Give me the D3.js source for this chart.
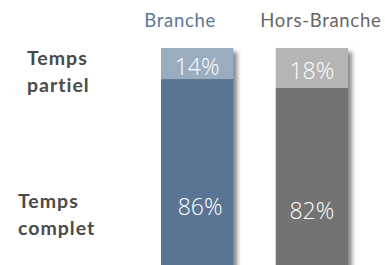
<!DOCTYPE html>
<html>
<head>
<meta charset="utf-8">
<script src="https://cdn.jsdelivr.net/npm/d3@7"></script>
<style>
  body { margin: 0; background: #fff; }
  svg { display: block; }
</style>
</head>
<body>
<svg width="385" height="265"></svg>
<script>
/*global d3 */
var categories = ["Branche", "Hors-Branche"];
var partiel = [14, 18];
var complet = [86, 82];
var rowLabels = [["Temps", "partiel"], ["Temps", "complet"]];

var colPartiel = ["#9aacbf", "#b5b5b5"];
var colComplet = ["#5a7593", "#737373"];
var colTitle = ["#5b7896", "#666666"];

var svg = d3.select("svg");

var x = d3.scaleBand().domain(categories).range([161, 348]).paddingInner(0.37).paddingOuter(0);
var y = d3.scaleLinear().domain([0, 100]).range([270, 48]);

var defs = svg.append("defs");
defs.append("filter").attr("id", "blur")
    .attr("x", "-50%").attr("y", "-10%").attr("width", "200%").attr("height", "120%")
    .append("feGaussianBlur").attr("stdDeviation", 2);

// shadows
svg.selectAll("rect.shadow").data(categories).enter().append("rect")
    .attr("class", "shadow")
    .attr("x", function (d) { return x(d) + 4; })
    .attr("y", y(100) + 4)
    .attr("width", x.bandwidth())
    .attr("height", y(0) - y(100))
    .attr("fill", "#8a8a8a")
    .attr("filter", "url(#blur)");

// complet segments
svg.selectAll("rect.complet").data(complet).enter().append("rect")
    .attr("class", "complet")
    .attr("x", function (d, i) { return x(categories[i]); })
    .attr("y", function (d) { return y(d); })
    .attr("width", x.bandwidth())
    .attr("height", function (d) { return y(0) - y(d); })
    .attr("fill", function (d, i) { return colComplet[i]; });

// partiel segments
svg.selectAll("rect.partiel").data(partiel).enter().append("rect")
    .attr("class", "partiel")
    .attr("x", function (d, i) { return x(categories[i]); })
    .attr("y", function (d, i) { return y(complet[i] + d); })
    .attr("width", x.bandwidth())
    .attr("height", function (d, i) { return y(complet[i]) - y(complet[i] + d); })
    .attr("fill", function (d, i) { return colPartiel[i]; });

// value labels
var valFont = "'Open Sans', 'Segoe UI', sans-serif";
svg.selectAll("text.vp").data(partiel).enter().append("text")
    .attr("class", "vp")
    .attr("x", function (d, i) { return x(categories[i]) + x.bandwidth() / 2; })
    .attr("y", function (d, i) { return (y(complet[i] + d) + y(complet[i])) / 2 + 11; })
    .attr("text-anchor", "middle")
    .attr("fill", "#fff")
    .style("font-family", valFont)
    .style("font-weight", 300)
    .style("font-size", "23px")
    .text(function (d) { return d + "%"; });

svg.selectAll("text.vc").data(complet).enter().append("text")
    .attr("class", "vc")
    .attr("x", function (d, i) { return x(categories[i]) + x.bandwidth() / 2 + (i === 0 ? 3 : 0); })
    .attr("y", function (d) { return (y(d) + 335) / 2 + 8; })
    .attr("text-anchor", "middle")
    .attr("fill", "#fff")
    .style("font-family", valFont)
    .style("font-weight", 300)
    .style("font-size", "23px")
    .text(function (d) { return d + "%"; });

// column titles
svg.selectAll("text.title").data(categories).enter().append("text")
    .attr("class", "title")
    .attr("x", function (d, i) { return x(d) + x.bandwidth() / 2 + (i === 0 ? -17 : 9); })
    .attr("y", 27)
    .attr("text-anchor", "middle")
    .attr("fill", function (d, i) { return colTitle[i]; })
    .style("font-family", "Lato, sans-serif")
    .style("font-size", "18.5px")
    .style("letter-spacing", "0.7px")
    .text(function (d) { return d; });

// row labels
var rowPos = [[27, 65], [18, 208]];
rowLabels.forEach(function (lines, r) {
    var t = svg.append("text")
        .attr("fill", "#4a4a4a")
        .style("font-family", "Lato, sans-serif")
        .style("font-weight", 700)
        .style("font-size", "19.5px")
        .style("letter-spacing", "1px");
    lines.forEach(function (s, k) {
        t.append("tspan")
            .attr("x", rowPos[r][0])
            .attr("y", rowPos[r][1] + k * 27)
            .text(s);
    });
});
</script>
</body>
</html>
